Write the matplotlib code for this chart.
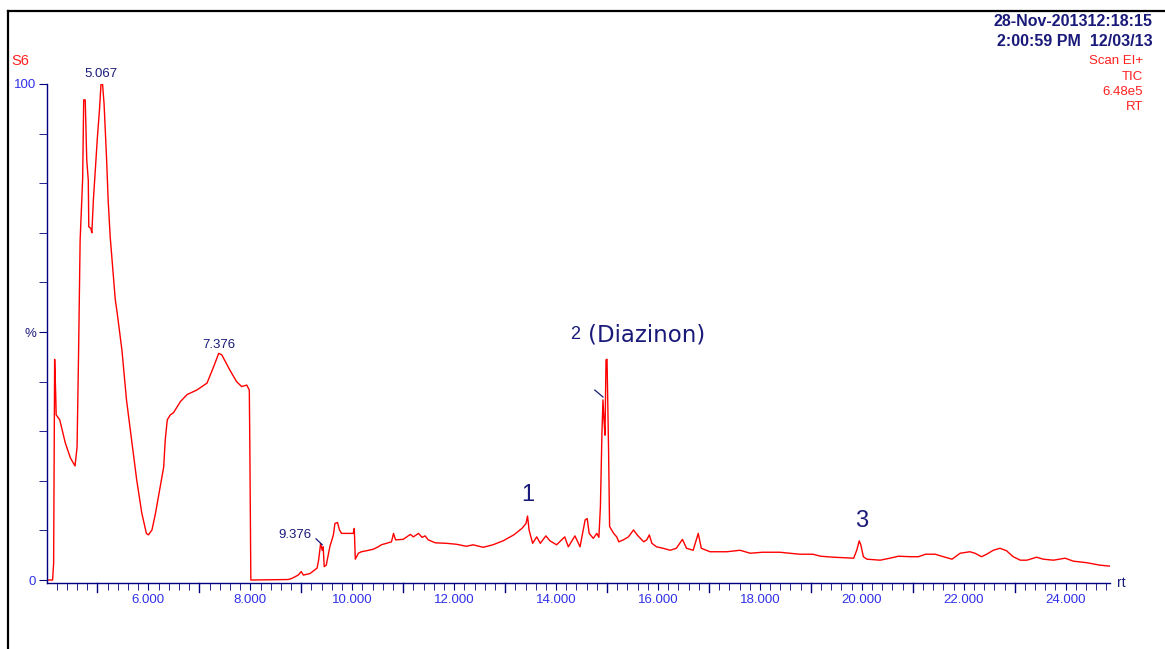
import numpy as np
import matplotlib.pyplot as plt
from matplotlib.lines import Line2D

plt.rcParams['font.family'] = ['Liberation Sans', 'DejaVu Sans']

# retention time (min) and relative intensity (%)
rt = [4.01, 4.08, 4.12, 4.14, 4.16, 4.18, 4.19, 4.26, 4.37, 4.47, 4.56, 4.60, 4.63,
      4.66, 4.71, 4.73, 4.76, 4.79, 4.82, 4.83, 4.87, 4.89, 4.92, 4.95, 5.00, 5.04,
      5.07, 5.10, 5.13, 5.15, 5.18, 5.21, 5.25, 5.35, 5.38, 5.48, 5.57, 5.67, 5.77,
      5.87, 5.96, 6.00, 6.07, 6.14, 6.23, 6.30, 6.33, 6.37, 6.43, 6.49, 6.63, 6.76,
      6.95, 7.15, 7.28, 7.38, 7.44, 7.60, 7.73, 7.83, 7.93, 7.98, 7.99, 8.01, 8.74,
      8.81, 8.94, 9.00, 9.04, 9.17, 9.31, 9.34, 9.38, 9.41, 9.43, 9.45, 9.49, 9.56,
      9.63, 9.66, 9.71, 9.75, 9.79, 10.02, 10.04, 10.06, 10.12, 10.18, 10.28, 10.41,
      10.51, 10.57, 10.67, 10.77, 10.81, 10.85, 11.00, 11.14, 11.20, 11.30, 11.37,
      11.43, 11.49, 11.63, 11.85, 12.05, 12.24, 12.37, 12.57, 12.76, 12.96, 13.17,
      13.33, 13.41, 13.44, 13.47, 13.54, 13.62, 13.69, 13.80, 13.88, 14.01, 14.17,
      14.24, 14.37, 14.47, 14.57, 14.61, 14.65, 14.73, 14.80, 14.84, 14.87, 14.90,
      14.92, 14.94, 14.96, 14.98, 15.00, 15.03, 15.05, 15.13, 15.19, 15.23, 15.32,
      15.42, 15.52, 15.59, 15.72, 15.78, 15.83, 15.88, 15.97, 16.10, 16.24, 16.36,
      16.48, 16.56, 16.69, 16.79, 16.85, 17.02, 17.35, 17.61, 17.81, 18.05, 18.39,
      18.78, 19.04, 19.19, 19.44, 19.84, 19.90, 19.95, 19.98, 20.03, 20.10, 20.36,
      20.55, 20.72, 20.95, 21.11, 21.25, 21.44, 21.60, 21.77, 21.93, 22.12, 22.22,
      22.35, 22.45, 22.58, 22.71, 22.84, 22.97, 23.11, 23.24, 23.43, 23.56, 23.76,
      23.99, 24.15, 24.41, 24.67, 24.87]
tic = [0.0, 0.0, 0.0, 3.4, 44.5, 37.7, 33.3, 32.3, 27.6, 24.6, 23.0, 26.8, 46.0,
       68.5, 81.0, 96.8, 96.8, 84.7, 80.6, 71.2, 70.9, 70.0, 76.6, 81.3, 89.4, 94.8,
       100.0, 100.0, 96.0, 91.4, 84.7, 76.6, 69.2, 56.5, 54.4, 46.4, 36.3, 28.2, 20.2,
       13.5, 9.4, 9.1, 10.1, 13.5, 18.8, 22.8, 28.2, 32.3, 33.3, 33.7, 36.0, 37.4,
       38.3, 39.7, 43.0, 45.7, 45.4, 42.3, 40.0, 39.0, 39.3, 38.3, 27.6, 0.0, 0.1,
       0.3, 1.0, 1.7, 1.0, 1.3, 2.4, 4.0, 7.4, 6.0, 6.7, 2.7, 3.0, 6.7,
       9.1, 11.4, 11.6, 10.1, 9.4, 9.4, 10.4, 4.2, 5.4, 5.7, 5.9, 6.2,
       6.7, 7.1, 7.4, 7.7, 9.4, 8.1, 8.2, 9.2, 8.7, 9.4, 8.6,
       8.9, 8.1, 7.5, 7.4, 7.2, 6.8, 7.1, 6.6, 7.1, 7.9, 9.1,
       10.4, 11.4, 12.9, 10.1, 7.4, 8.7, 7.4, 8.9, 7.9, 7.1, 8.7,
       6.7, 8.9, 6.7, 12.1, 12.4, 9.4, 8.4, 9.4, 8.6, 14.8, 29.6,
       36.3, 32.3, 29.2, 44.4, 44.5, 26.2, 10.8, 9.4, 8.7, 7.7, 8.1,
       8.7, 10.1, 9.1, 7.7, 8.1, 9.1, 7.4, 6.7, 6.4, 6.0, 6.4,
       8.2, 6.4, 6.0, 9.4, 6.4, 5.7, 5.7, 6.0, 5.4, 5.6, 5.6,
       5.2, 5.2, 4.8, 4.6, 4.4, 6.0, 7.9, 7.1, 4.7, 4.2, 4.0,
       4.4, 4.8, 4.7, 4.7, 5.2, 5.2, 4.7, 4.2, 5.4, 5.7, 5.4,
       4.7, 5.2, 6.0, 6.4, 5.9, 4.7, 4.0, 4.0, 4.6, 4.2, 4.0,
       4.4, 3.8, 3.5, 3.0, 2.8]

x_labels = [6, 8, 10, 12, 14, 16, 18, 20, 22, 24]
peak_labels = [(5.067, 102.0, '5.067'), (7.376, 47.4, '7.376'), (8.88, 9.1, '9.376')]

navy = '#1a1a7a'
blue = '#3030e8'
W, H = 1165, 649

fig = plt.figure(figsize=(W / 100, H / 100), dpi=100)
ax = fig.add_axes([47 / W, (H - 583) / H, (1110 - 47) / W, (583 - 84) / H])
ax.plot(rt, tic, color='red', lw=1.0)

ax.set_xlim(4.01, 24.87)
ax.set_ylim(-0.6, 100)
for s in ['top', 'right']:
    ax.spines[s].set_visible(False)
for s in ['left', 'bottom']:
    ax.spines[s].set_color('#000080')
    ax.spines[s].set_linewidth(1.0)

ax.set_xticks(x_labels)
ax.set_xticklabels(['%.3f' % v for v in x_labels], color=blue, fontsize=9.5)
ax.set_xticks(np.arange(4.2, 24.9, 0.2), minor=True)
ax.tick_params(axis='x', which='both', length=5, color='#000080', pad=3)
# longer ticks on the odd minutes
for t in range(5, 25, 2):
    ax.add_line(Line2D([t, t], [-0.6, -2.4], color='#000080', lw=1.0, clip_on=False))

ax.set_yticks([0, 50, 100])
ax.set_yticklabels(['0', '%', '100'], fontsize=9.5)
for lab, c in zip(ax.get_yticklabels(), [blue, navy, blue]):
    lab.set_color(c)
ax.set_yticks(np.arange(10, 100, 10), minor=True)
ax.tick_params(axis='y', which='both', length=6, color='#000080', pad=2)

for x, y, s in peak_labels:
    ax.text(x, y, s, color=navy, fontsize=9.5, ha='center', va='center', clip_on=False)
ax.plot([9.29, 9.41], [8.3, 7.1], color=navy, lw=0.9)
ax.plot([14.76, 14.92], [38.3, 36.9], color=navy, lw=0.9)

ax.text(13.45, 17.1, '1', color=navy, fontsize=17, ha='center', va='center')
ax.text(14.27, 49.4, '2', color=navy, fontsize=13, ha='left', va='center')
ax.text(14.63, 49.4, '(Diazinon)', color=navy, fontsize=16.5, ha='left', va='center',
        family=['DejaVu Sans'])
ax.text(20.0, 11.9, '3', color=navy, fontsize=17, ha='center', va='center')
ax.text(25.0, -0.6, 'rt', color=navy, fontsize=10, ha='left', va='center', clip_on=False)

fig.text(1153 / W, 1 - 21 / H, '28-Nov-201312:18:15', color=navy, fontsize=11.5,
         fontweight='bold', ha='right', va='center')
fig.text(1153 / W, 1 - 41 / H, '2:00:59 PM  12/03/13', color=navy, fontsize=11.5,
         fontweight='bold', ha='right', va='center')
for i, s in enumerate(['Scan EI+', 'TIC', '6.48e5', 'RT']):
    fig.text(1143 / W, 1 - (61 + 15.5 * i) / H, s, color='#ff2020', fontsize=9.5,
             ha='right', va='center')
fig.text(11 / W, 1 - 61 / H, 'S6', color='#ff2020', fontsize=10.5, ha='left', va='center')

# frame of the printout (top and left edges)
fig.add_artist(Line2D([8 / W, 1], [1 - 11 / H, 1 - 11 / H], color='black', lw=1.6))
fig.add_artist(Line2D([8 / W, 8 / W], [0, 1 - 11 / H], color='black', lw=1.6))

fig.savefig('out.png', dpi=100)
